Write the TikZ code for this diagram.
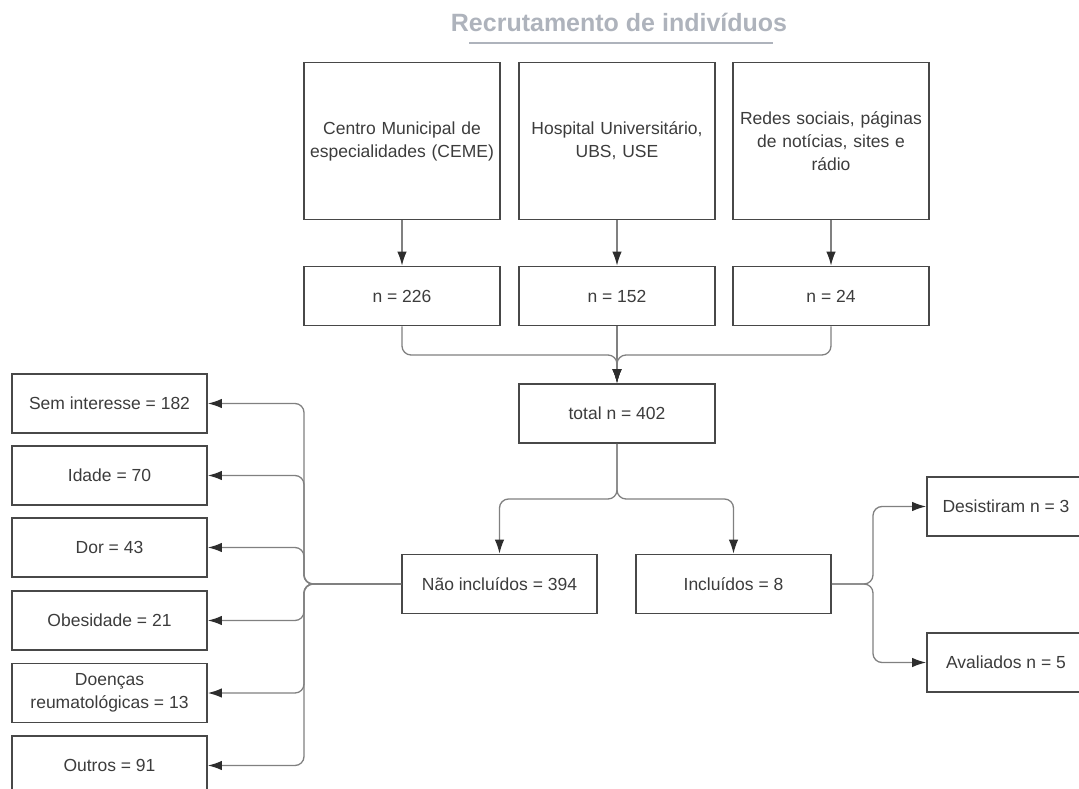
\documentclass[tikz,border=0pt]{standalone}
\usepackage{fontspec}
\setmainfont{Liberation Sans}
\usepackage{xcolor}
\definecolor{boxgray}{RGB}{72,72,72}
\definecolor{textgray}{RGB}{60,60,60}
\definecolor{linegray}{RGB}{128,128,128}
\definecolor{tipgray}{RGB}{45,45,45}
\definecolor{titlegray}{RGB}{174,179,188}
\usepackage{tikz}
\usetikzlibrary{arrows.meta, positioning, calc}

\tikzset{
  flowbox/.style={draw=boxgray, line width=1.8pt, text=textgray, align=center,
    font=\fontsize{17.5}{23}\selectfont, inner sep=0pt},
  srcbox/.style={flowbox, minimum width=196pt, minimum height=157pt, text width=190pt},
  nbox/.style={flowbox, minimum width=196pt, minimum height=59pt},
  sidebox/.style={flowbox, minimum width=195pt, minimum height=59pt},
  endbox/.style={flowbox, minimum width=158pt, minimum height=59pt},
  conn/.style={draw=linegray, line width=1.3pt, rounded corners=9pt},
  arr/.style={conn, -{Latex[length=14pt, width=9.5pt, color=tipgray]}},
}

\begin{document}
\begin{tikzpicture}[x=1pt, y=-1pt]
\useasboundingbox (0,0) rectangle (1079,789);

% --- Title ---
\node[font=\fontsize{25}{30}\selectfont\bfseries, text=titlegray] (title) at (619,22)
  {Recrutamento de indivíduos};
\draw[titlegray, line width=2.5pt] (469,43) -- (773,43);

% --- Sources ---
\node[srcbox] (ceme) at (402,141) {Centro Municipal de\\especialidades (CEME)};
\node[srcbox] (hosp) at (617,141) {Hospital Universitário,\\UBS, USE};
\node[srcbox] (redes) at (831,141) {Redes sociais, páginas\\de notícias, sites e\\rádio};

\node[nbox] (n1) at (402,296) {n = 226};
\node[nbox] (n2) at (617,296) {n = 152};
\node[nbox] (n3) at (831,296) {n = 24};

\draw[arr] (ceme) -- (n1);
\draw[arr] (hosp) -- (n2);
\draw[arr] (redes) -- (n3);

% --- Total ---
\node[nbox] (total) at (617,413.5) {total n = 402};
\coordinate (merge) at (617,355);
\draw[arr] (n1.south) |- (merge) -- (total.north);
\draw[arr] (n3.south) |- (merge) -- (total.north);
\draw[arr] (n2.south) -- (total.north);

% --- Split ---
\node[sidebox] (nao) at (499.5,584) {Não incluídos = 394};
\node[sidebox] (incl) at (733.5,584) {Incluídos = 8};
\coordinate (split) at (617,499);
\draw[arr] (total.south) -- (split) -| (nao.north);
\draw[arr] (total.south) -- (split) -| (incl.north);

% --- Not included reasons ---
\node[sidebox] (sem) at (109.5,403.5) {Sem interesse = 182};
\node[sidebox] (idade) at (109.5,475.5) {Idade = 70};
\node[sidebox] (dor) at (109.5,547.5) {Dor = 43};
\node[sidebox] (obes) at (109.5,620.5) {Obesidade = 21};
\node[sidebox] (reuma) at (109.5,693) {Doenças\\reumatológicas = 13};
\node[sidebox] (outros) at (109.5,765.5) {Outros = 91};
\coordinate (lfan) at (304,584);
\foreach \b in {sem, idade, dor, obes, reuma, outros}
  \draw[arr] (nao.west) -- (lfan) |- (\b.east);

% --- Included ---
\node[endbox] (desist) at (1006,506.5) {Desistiram n = 3};
\node[endbox] (aval) at (1006,662.5) {Avaliados n = 5};
\coordinate (rfan) at (873,584);
\draw[arr] (incl.east) -- (rfan) |- (desist.west);
\draw[arr] (incl.east) -- (rfan) |- (aval.west);

\end{tikzpicture}
\end{document}
